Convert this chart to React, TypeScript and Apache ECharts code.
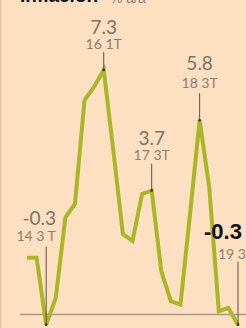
import React, { useEffect, useRef } from "react";
import * as echarts from "echarts";

const categories = [
  "14 1T", "14 2T", "14 3T", "14 4T", "15 1T", "15 2T", "15 3T", "15 4T",
  "16 1T", "16 2T", "16 3T", "16 4T", "17 1T", "17 2T", "17 3T", "17 4T",
  "18 1T", "18 2T", "18 3T", "18 4T", "19 1T", "19 2T", "19 3T",
];
const values = [
  1.7, 1.7, -0.3, 0.5, 2.9, 3.3, 6.4, 6.8,
  7.3, 4.9, 2.4, 2.2, 3.6, 3.7, 1.3, 0.4,
  0.3, 3.0, 5.8, 3.8, 0.1, 0.2, -0.3,
];
const annIndex = [2, 8, 13, 18, 22];
const annValue = ["-0.3", "7.3", "3.7", "5.8", "-0.3"];
const annSub = ["14 3 T", "16 1T", "17 3T", "18 3T", "19 3T"];

// layout for each annotation (text baselines relative to point)
const annLayout = [
  { vx: -7, vy: -102, sx: -10, sy: -85, ly: -78, align: "center", bold: false },
  { vx: 0, vy: -38, sx: 0, sy: -22, ly: -18, align: "center", bold: false },
  { vx: 0, vy: -48, sx: 0, sy: -32, ly: -27, align: "center", bold: false },
  { vx: 0, vy: -52, sx: 0, sy: -34, ly: -27, align: "center", bold: false },
  { vx: -34, vy: -86, sx: -20, sy: -67, ly: -63, align: "left", bold: true },
];

export default function App() {
  const ref = useRef<HTMLDivElement>(null);
  useEffect(() => {
    if (!ref.current) return;
    const chart = echarts.init(ref.current, null, { renderer: "svg" });
    chart.setOption({
      animation: false,
      backgroundColor: "#FDDFC1",
      grid: { left: 27, right: 8, top: 46.5, bottom: 0 },
      xAxis: {
        type: "category",
        data: categories,
        boundaryGap: false,
        show: false,
      },
      yAxis: {
        type: "value",
        min: -0.4,
        max: 8,
        show: false,
      },
      series: [
        {
          type: "line",
          data: values,
          symbol: "none",
          lineStyle: { color: "#A9B626", width: 4, join: "miter" },
          z: 3,
        },
      ],
    });
    const zeroY = chart.convertToPixel({ yAxisIndex: 0 }, 0) as number;
    const graphics: any[] = [
      {
        type: "rect",
        shape: { x: 0, y: 0, width: 1.5, height: 328 },
        style: { fill: "#E6C3A3" },
        z: 1,
      },
      {
        type: "line",
        shape: { x1: 20, y1: zeroY, x2: 246, y2: zeroY },
        style: { stroke: "#A89A8C", lineWidth: 1.5 },
        z: 1,
      },
      {
        type: "text",
        style: {
          text: "Inflación",
          x: 20,
          y: 5,
          verticalAlign: "bottom",
          fill: "#111",
          font: "bold 19px 'Liberation Sans', sans-serif",
        },
        z: 10,
      },
      {
        type: "text",
        style: {
          text: "% a/a",
          x: 110,
          y: 5,
          verticalAlign: "bottom",
          fill: "#8A7E74",
          font: "14px 'Liberation Sans', sans-serif",
        },
        z: 10,
      },
    ];
    annIndex.forEach((idx, i) => {
      const [px, py] = chart.convertToPixel({ xAxisIndex: 0, yAxisIndex: 0 }, [idx, values[idx]]) as number[];
      const L = annLayout[i];
      graphics.push({
        type: "line",
        shape: { x1: px, y1: py + L.ly, x2: px, y2: py + 1 },
        style: { stroke: "#5C5048", lineWidth: 1 },
        z: 5,
      });
      graphics.push({
        type: "circle",
        shape: { cx: px, cy: py, r: 1.3 },
        style: { fill: "#3A302A" },
        z: 6,
      });
      graphics.push({
        type: "text",
        style: {
          text: annValue[i],
          x: px + L.vx,
          y: py + L.vy + 4,
          align: L.align,
          verticalAlign: "bottom",
          fill: L.bold ? "#111" : "#7E7268",
          font: L.bold ? "bold 22px 'Liberation Sans', sans-serif" : "19px 'Lato', sans-serif",
        },
        z: 7,
      });
      graphics.push({
        type: "text",
        style: {
          text: annSub[i],
          x: px + L.sx,
          y: py + L.sy + 3,
          align: L.align,
          verticalAlign: "bottom",
          fill: "#8A7E74",
          font: "14px 'Lato', sans-serif",
        },
        z: 7,
      });
    });
    chart.setOption({ graphic: graphics });
    return () => chart.dispose();
  }, []);
  return (
    <div
      ref={ref}
      style={{ position: "fixed", left: 0, top: 0, width: 246, height: 328 }}
    />
  );
}
